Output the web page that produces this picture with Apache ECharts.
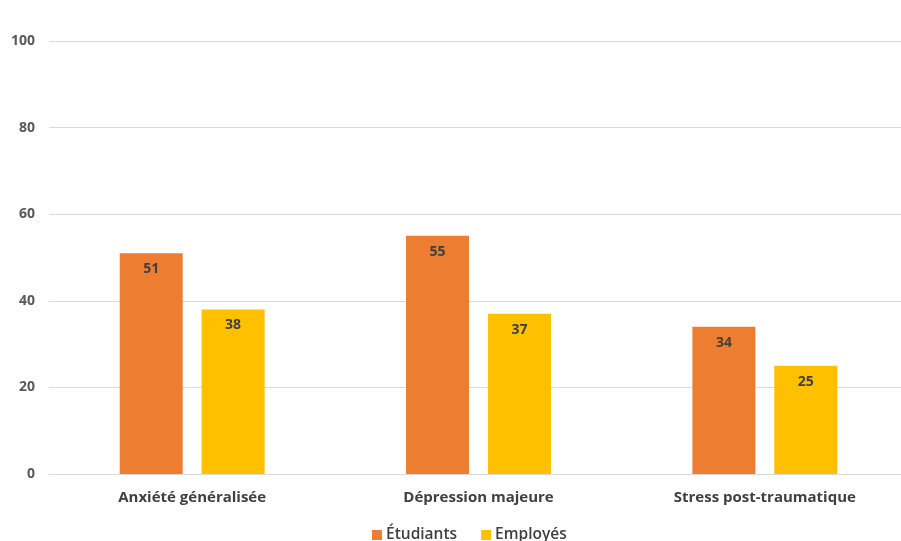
<!DOCTYPE html>
<html><head><meta charset="utf-8">
<script src="https://cdn.jsdelivr.net/npm/echarts@6/dist/echarts.min.js"></script>
<style>html,body{margin:0;padding:0;background:#fff;overflow:hidden}#c{width:910px;height:541px}</style>
</head><body><div id="c"></div>
<script>
var categories = ['Anxiété généralisée', 'Dépression majeure', 'Stress post-traumatique'];
var etudiants = [51, 55, 34];
var employes = [38, 37, 25];
var yTicks = [0, 20, 40, 60, 80, 100];

var chart = echarts.init(document.getElementById('c'));
var labelStyle = {show: true, position: 'insideTop', distance: 9, color: '#404040', fontWeight: 'bold', fontSize: 14, fontFamily: 'Open Sans'};
chart.setOption({
  animation: false,
  grid: {left: 49, width: 859, top: 41, height: 433, containLabel: false},
  legend: {top: 522, left: 367, itemWidth: 10, itemHeight: 10, itemGap: 24, icon: 'rect',
    textStyle: {color: '#404040', fontSize: 15.5, fontFamily: 'Open Sans', fontWeight: 600, padding: [0, 0, 0, -1]},
    data: ['Étudiants', 'Employés']},
  xAxis: {type: 'category', data: categories,
    axisLine: {lineStyle: {color: '#d9d9d9'}}, axisTick: {show: false},
    axisLabel: {color: '#404040', fontSize: 15, fontWeight: 'bold', fontFamily: 'Open Sans', margin: 16}},
  yAxis: {type: 'value', min: yTicks[0], max: yTicks[yTicks.length - 1], interval: 20,
    axisLine: {show: false}, axisTick: {show: false},
    splitLine: {lineStyle: {color: '#d9d9d9'}},
    axisLabel: {color: '#595959', fontSize: 14, fontWeight: 'bold', fontFamily: 'Open Sans', margin: 14}},
  series: [
    {name: 'Étudiants', type: 'bar', data: etudiants, barWidth: 63, barGap: '30%', itemStyle: {color: '#ED7D31'}, label: labelStyle},
    {name: 'Employés', type: 'bar', data: employes, barWidth: 63, itemStyle: {color: '#FFC000'}, label: labelStyle}
  ]
});
</script></body></html>
